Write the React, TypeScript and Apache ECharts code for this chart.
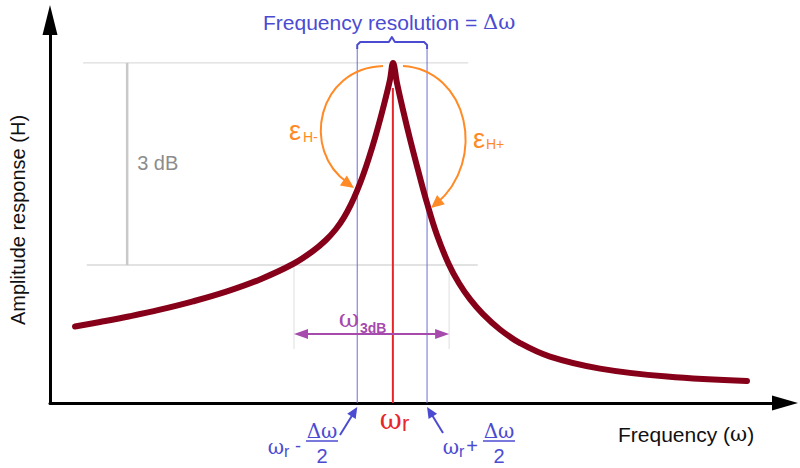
import React, { useEffect, useRef } from "react";
import * as echarts from "echarts";

// ---- data (frequency / amplitude in arbitrary 0..100 units) ----
const frequency = [
  3.4, 6.8, 10.88, 14.97, 19.46, 24.08, 28.57, 33.06, 35.78, 37.55, 38.91, 40.0, 40.95, 41.77, 42.59, 43.4, 44.22,
  45.03, 45.71, 46.26, 46.67,
  47.21, 48.03, 48.98, 50.07, 51.29, 52.65, 54.29, 55.65, 57.14, 58.91, 61.22, 63.95, 68.03, 74.83, 83.95, 94.83,
];
const amplitude = [
  19.97, 21.15, 22.66, 24.36, 26.53, 29.14, 32.27, 36.29, 39.69, 42.56, 45.43, 48.46, 51.85, 55.38, 59.45, 64.07, 69.24,
  74.88, 79.97, 84.46, 88.77,
  83.55, 76.5, 68.93, 60.84, 52.22, 43.86, 36.08, 31.25, 27.1, 23.19, 19.19, 15.64, 12.11, 8.98, 6.89, 5.74,
];
const peakLevel = 88.8;
const halfPowerLevel = 36.0;
const resonance = 46.65;
const resolutionEdges = [41.8, 51.3];
const bandEdges3dB = [33.2, 54.3];
const peakGuideSpan = [4.5, 56.9];
const halfPowerGuideSpan = [5.0, 58.2];
const dBMarkerX = 10.5;
const bandArrowLevel = 18.0;

const W = 800;
const H = 468;
const GRID = { left: 50, right: 15, top: 20, bottom: 65 };
const px = (x: number) => GRID.left + (x / 100) * (W - GRID.left - GRID.right);
const py = (y: number) => H - GRID.bottom - (y / 100) * (H - GRID.top - GRID.bottom);

const SANS = '"Liberation Sans", Arial, sans-serif';
const SERIF = '"DejaVu Serif", "Liberation Serif", serif';
const BLUE = "#4b4bd2";
const BLUE_LINE = "#6d6dd6";
const RED = "#e8262a";
const ORANGE = "#ff8a26";
const PURPLE = "#a64aae";
const CURVE = "#870019";

function arrowHead(tx: number, ty: number, fx: number, fy: number, len: number, half: number, color: string, z = 10) {
  const dx = tx - fx;
  const dy = ty - fy;
  const d = Math.hypot(dx, dy);
  const ux = dx / d;
  const uy = dy / d;
  const bx = tx - ux * len;
  const by = ty - uy * len;
  return {
    type: "polygon",
    z,
    shape: { points: [[tx, ty], [bx - uy * half, by + ux * half], [bx + uy * half, by - ux * half]] },
    style: { fill: color },
  };
}

function txt(text: string, x: number, y: number, size: number, color: string, family: string, align = "center", weight = "normal", rotation = 0) {
  return {
    type: "text",
    z: 20,
    x,
    y,
    rotation,
    style: {
      text,
      fill: color,
      fontSize: size,
      fontFamily: family,
      fontWeight: weight,
      align,
      verticalAlign: "middle",
      textAlign: align,
      textVerticalAlign: "middle",
    },
  };
}

function line(x1: number, y1: number, x2: number, y2: number, color: string, width: number, z = 1) {
  return { type: "line", z, shape: { x1, y1, x2, y2 }, style: { stroke: color, lineWidth: width } };
}

function buildGraphics() {
  const g: any[] = [];
  const yPeak = py(peakLevel);
  const yHalf = py(halfPowerLevel);
  const yAxis0 = py(0);
  // gray guides
  g.push(line(px(peakGuideSpan[0]), yPeak, px(peakGuideSpan[1]), yPeak, "#d4d4d4", 1));
  g.push(line(px(halfPowerGuideSpan[0]), yHalf, px(halfPowerGuideSpan[1]), yHalf, "#d8d8d8", 1.5));
  g.push(line(px(dBMarkerX), yPeak, px(dBMarkerX), yHalf, "#c9c9c9", 2.5));
  g.push(txt("3 dB", px(dBMarkerX) + 10, 163, 20, "#8c8c8c", SANS, "left"));
  bandEdges3dB.forEach((e) => g.push(line(px(e), yHalf + 2, px(e), yHalf + 84, "#dedede", 1)));
  // resolution edges and resonance
  resolutionEdges.forEach((e) => g.push(line(px(e), 48, px(e), yAxis0, BLUE_LINE, 1)));
  g.push(line(px(resonance), 88, px(resonance), yAxis0, RED, 2));
  // bracket
  const l = px(resolutionEdges[0]);
  const r = px(resolutionEdges[1]);
  const c = px(resonance);
  g.push({
    type: "polyline",
    z: 10,
    shape: { points: [[l, 49], [l, 45], [l + 3, 42], [c - 4, 42], [c - 1, 37], [c + 2, 42], [r - 3, 42], [r, 45], [r, 49]] },
    style: { stroke: BLUE, lineWidth: 2, fill: "none", lineJoin: "round" },
  });
  g.push({
    type: "text",
    z: 20,
    x: 263,
    y: 22,
    style: {
      text: "{a|Frequency resolution = }{b|Δω}",
      align: "left",
      verticalAlign: "middle",
      textAlign: "left",
      textVerticalAlign: "middle",
      rich: {
        a: { fontSize: 21, fontFamily: SANS, fill: BLUE, color: BLUE },
        b: { fontSize: 21, fontFamily: SERIF, fill: BLUE, color: BLUE },
      },
    },
  });
  // orange arcs
  g.push({
    type: "bezierCurve",
    z: 10,
    shape: { x1: 383, y1: 66, cpx1: 318, cpy1: 68, cpx2: 300, cpy2: 150, x2: 348, y2: 183 },
    style: { stroke: ORANGE, lineWidth: 2, fill: "none" },
  });
  g.push(arrowHead(354, 188, 300, 150, 13, 6, ORANGE));
  g.push({
    type: "bezierCurve",
    z: 10,
    shape: { x1: 403, y1: 66, cpx1: 468, cpy1: 70, cpx2: 488, cpy2: 160, x2: 436, y2: 204 },
    style: { stroke: ORANGE, lineWidth: 2, fill: "none" },
  });
  g.push(arrowHead(431, 208, 488, 160, 13, 6, ORANGE));
  g.push(txt("ε", 295, 131, 27, ORANGE, SANS));
  g.push(txt("H-", 303, 137, 14, ORANGE, SANS, "left"));
  g.push(txt("ε", 479, 139, 27, ORANGE, SANS));
  g.push(txt("H+", 486, 144, 14, ORANGE, SANS, "left"));
  // 3dB band arrow
  const yb = py(bandArrowLevel);
  const b0 = px(bandEdges3dB[0]);
  const b1 = px(bandEdges3dB[1]);
  g.push(line(b0 + 8, yb, b1 - 8, yb, PURPLE, 2, 10));
  g.push(arrowHead(b0, yb, b1, yb, 14, 5, PURPLE));
  g.push(arrowHead(b1, yb, b0, yb, 14, 5, PURPLE));
  g.push(txt("ω", 349, 318, 25, PURPLE, SERIF));
  g.push(txt("3dB", 360, 328, 14, PURPLE, SANS, "left", "bold"));
  // resonance label
  g.push(txt("ω", c - 2, 419, 27, RED, SERIF));
  g.push(txt("r", c + 9, 423, 22, RED, SANS, "left"));
  // lower edge label
  g.push(line(340, 435, 353, 414, BLUE, 2, 10));
  g.push(arrowHead(l, 407, 340, 435, 11, 5, BLUE));
  g.push(txt("ω", 276, 447, 20, BLUE, SERIF));
  g.push(txt("r", 284, 451, 16, BLUE, SANS, "left"));
  g.push(txt("-", 298, 446, 18, BLUE, SANS));
  g.push(txt("Δω", 322, 431, 20, BLUE, SERIF));
  g.push(line(306, 441, 338, 441, BLUE, 1.5, 10));
  g.push(txt("2", 322, 456, 20, BLUE, SANS));
  // upper edge label
  g.push(line(443, 433, 432, 415, BLUE, 2, 10));
  g.push(arrowHead(r, 407, 443, 433, 11, 5, BLUE));
  g.push(txt("ω", 451, 447, 20, BLUE, SERIF));
  g.push(txt("r", 459, 451, 16, BLUE, SANS, "left"));
  g.push(txt("+", 472, 446, 20, BLUE, SANS));
  g.push(txt("Δω", 499, 431, 20, BLUE, SERIF));
  g.push(line(483, 441, 515, 441, BLUE, 1.5, 10));
  g.push(txt("2", 499, 456, 20, BLUE, SANS));
  // axis titles
  g.push({
    type: "text",
    z: 20,
    x: 618,
    y: 434,
    style: {
      text: "{a|Frequency (}{b|ω}{a|)}",
      align: "left",
      verticalAlign: "middle",
      textAlign: "left",
      textVerticalAlign: "middle",
      rich: {
        a: { fontSize: 21, fontFamily: SANS, fill: "#111", color: "#111" },
        b: { fontSize: 21, fontFamily: SERIF, fill: "#111", color: "#111" },
      },
    },
  });
  g.push(txt("Amplitude response (H)", 18, 220, 20, "#111", SANS, "center", "normal", Math.PI / 2));
  return g;
}

export default function App() {
  const ref = useRef<HTMLDivElement>(null);
  useEffect(() => {
    if (!ref.current) return;
    const chart = echarts.init(ref.current, null, { renderer: "svg" });
    const axisLine = (size: number[]) => ({
      show: true,
      onZero: false,
      symbol: ["none", "triangle"],
      symbolSize: size,
      lineStyle: { color: "#000", width: 3 },
    });
    chart.setOption({
      animation: false,
      backgroundColor: "#fff",
      grid: { ...GRID, containLabel: false },
      xAxis: {
        type: "value",
        min: 0,
        max: 100,
        axisLine: axisLine([15, 26]),
        axisTick: { show: false },
        axisLabel: { show: false },
        splitLine: { show: false },
      },
      yAxis: {
        type: "value",
        min: 0,
        max: 100,
        axisLine: axisLine([15, 30]),
        axisTick: { show: false },
        axisLabel: { show: false },
        splitLine: { show: false },
      },
      series: [
        {
          type: "line",
          z: 5,
          data: frequency.map((f, i) => [f, amplitude[i]]),
          showSymbol: false,
          symbol: "none",
          smooth: 0.4,
          lineStyle: { color: CURVE, width: 6, cap: "round", join: "round" },
        },
      ],
      graphic: { elements: buildGraphics() },
    });
    return () => chart.dispose();
  }, []);
  return <div ref={ref} style={{ position: "fixed", left: 0, top: 0, width: W, height: H }} />;
}
